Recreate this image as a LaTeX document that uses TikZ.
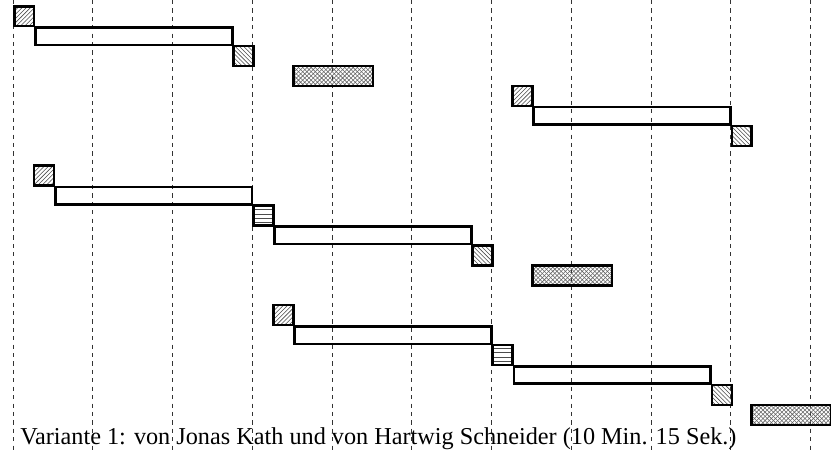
\documentclass[tikz,border=0pt]{standalone}
\usepackage{fontspec}
\setmainfont{Liberation Serif}
\usetikzlibrary{patterns}
\tikzset{
    time-line/.style = {draw=black!80, thin, dash pattern=on 3pt off 3pt},
    task-box/.style = {draw, line width=1.8pt, rectangle, anchor=north west, inner sep=0pt, minimum width=0.5cm, minimum height=0.5cm},
    start-box/.style = {task-box, pattern=north east lines, pattern color=black!70},
    end-box/.style = {task-box, pattern=north west lines, pattern color=black!70},
    swap-box/.style = {task-box, pattern=horizontal lines, pattern color=black!70},
    pause-box/.style = {task-box, minimum width=2cm, pattern=crosshatch, pattern color=black!60},
    work-bar/.style = {draw, line width=1.8pt},
}

\begin{document}
\begin{tikzpicture}[x=0.5cm, y=-0.5cm]
\useasboundingbox (-0.652,-0.25) rectangle (41.04,22.33);
% time grid
\foreach \t in {0,4,...,40}
    \draw[time-line] (\t,-0.25) -- (\t,22.33);

% first task
\node[start-box] (s1) at (0,0) {};
\node[end-box] (e1) at (11,2) {};
\draw[work-bar] (s1.south east) rectangle (e1.north west);
\node[pause-box] (p1) at (14,3) {};

% second task
\node[start-box] (s2) at (25,4) {};
\node[end-box] (e2) at (36,6) {};
\draw[work-bar] (s2.south east) rectangle (e2.north west);

% third task
\node[start-box] (s3) at (1,8) {};
\node[swap-box] (w3) at (12,10) {};
\node[end-box] (e3) at (23,12) {};
\draw[work-bar] (s3.south east) rectangle (w3.north west);
\draw[work-bar] (w3.south east) rectangle (e3.north west);
\node[pause-box] (p3) at (26,13) {};

% fourth task
\node[start-box] (s4) at (13,15) {};
\node[swap-box] (w4) at (24,17) {};
\node[end-box] (e4) at (35,19) {};
\draw[work-bar] (s4.south east) rectangle (w4.north west);
\draw[work-bar] (w4.south east) rectangle (e4.north west);
\node[pause-box] (p4) at (37,20) {};

\node[anchor=base west, inner sep=0pt, font=\fontsize{17.3}{20}\selectfont] (caption) at (0.35,22.05) {Variante 1: von Jonas Kath und von Hartwig Schneider (10 Min. 15 Sek.)};
\end{tikzpicture}
\end{document}
